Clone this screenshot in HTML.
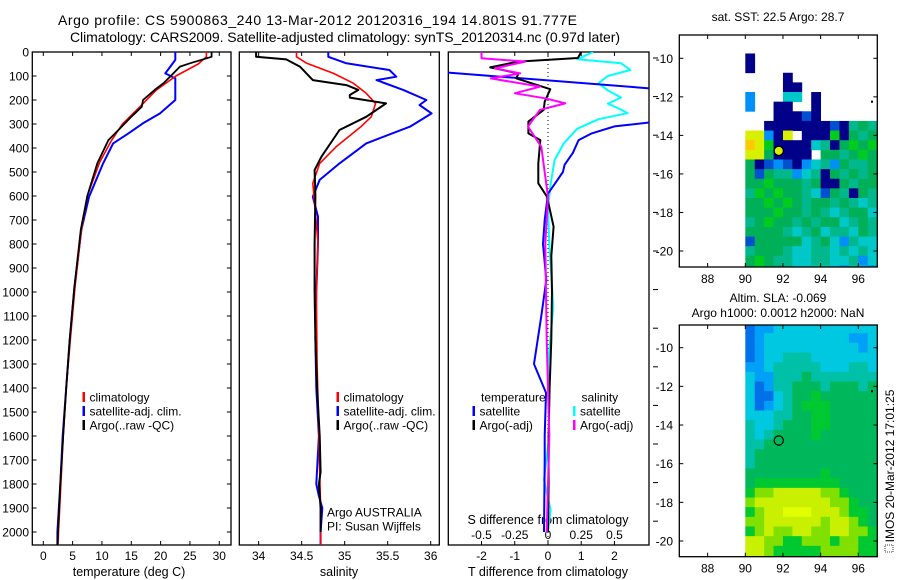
<!DOCTYPE html>
<html><head><meta charset="utf-8"><style>
html,body{margin:0;padding:0;background:#fff;}
svg{display:block;font-family:"Liberation Sans",Arial,sans-serif;}
</style></head><body>
<svg id="fig" width="900" height="580" viewBox="0 0 900 580">
<rect x="0" y="0" width="900" height="580" fill="#fff"/>
<text x="58" y="25" font-size="14" textLength="519" lengthAdjust="spacing">Argo profile: CS 5900863_240 13-Mar-2012 20120316_194 14.801S 91.777E</text>
<text x="70" y="42" font-size="14" textLength="550" lengthAdjust="spacing">Climatology: CARS2009. Satellite-adjusted climatology: synTS_20120314.nc (0.97d later)</text>
<g id="g"></g>
</svg>
<script>
// ---------- DATA ----------
// temperature panel
const tClimDepth=[0,20,50,100,160,230,300,370,460,600,740,980,1200,1400,1600,1800,2000,2060];
const tClimVal=[27.8,27.8,26.4,22.6,19.2,16.4,13.5,11.6,9.6,7.5,6.5,5.4,4.6,3.9,3.4,3.0,2.6,2.5];
const tArgoDepth=[0,20,47,61,103,130,158,200,228,270,325,367,464,600,740,980,1200,1400,1600,1800,2000,2060];
const tArgoVal=[28.7,28.7,25,23.3,21.6,20.5,19,17,16.8,15,12.8,11.1,9.2,7.5,6.4,5.3,4.5,3.9,3.4,2.9,2.5,2.4];
const tSatDepth=[0,33,89,110,200,256,297,339,381,464,603,740,980,1200,1400,1600,1800,2000,2060];
const tSatVal=[22.5,22.5,20.8,22.5,22.5,19.9,17,14.5,11.9,10.2,7.8,6.5,5.3,4.5,3.9,3.3,2.9,2.4,2.4];
// salinity panel
const sClimDepth=[0,20,47,89,130,172,214,270,311,395,464,547,631,797,1000,1300,1600,1900,2060];
const sClimVal=[34.44,34.44,34.56,34.87,35.10,35.25,35.36,35.31,35.19,34.90,34.71,34.63,34.65,34.69,34.67,34.68,34.70,34.72,34.72];
const sArgoDepth=[0,20,31,61,117,138,158,179,190,214,270,325,436,492,600,800,1000,1200,1400,1600,1750,1800,1900,2000];
const sArgoVal=[33.97,33.97,34.32,34.48,34.63,35.02,35.16,35.06,35.06,35.48,35.25,34.94,34.73,34.65,34.66,34.65,34.65,34.66,34.68,34.71,34.72,34.70,34.72,34.72];
const sSatDepth=[0,20,47,75,103,117,158,200,221,256,311,381,464,533,603,686,800,1000,1200,1400,1600,1800,1850,1900,2000,2060];
const sSatVal=[34.81,34.81,35.02,35.52,35.60,35.37,35.68,35.95,35.87,36.01,35.76,35.25,34.94,34.71,34.63,34.69,34.69,34.67,34.66,34.67,34.70,34.67,34.70,34.74,34.72,34.72];
// difference panel
const dTArgoDepth=[0,25,40,64,89,110,155,207,241,290,339,367,464,547,603,728,850,1000,1200,1400,1600,1800,2000];
const dTArgoVal=[1.0,0.9,-0.9,-1.74,-0.89,-0.95,0.07,-0.1,-0.13,-0.59,-0.59,-0.23,-0.29,-0.29,-0.03,0.17,0.1,0.12,0.1,0.05,0.02,0.02,0.0];
const dTSatDepth=[0,80,86,151,170,280,290,310,340,367,420,470,500,560,590,700,800,950,1100,1300,1420,1600,1700,2000];
const dTSatVal=[-6,-4,-3,3,4,4,3.3,2.0,1.3,0.92,0.75,0.5,0.45,0.15,0,-0.1,-0.15,-0.05,-0.2,-0.42,-0.06,-0.1,-0.1,-0.12];
const dSArgoDepth=[0,26,40,68,89,110,144,172,193,214,241,311,395,603,800,1200,1600,2000];
const dSArgoVal=[-0.50,-0.50,-0.17,-0.40,-0.21,-0.43,-0.06,-0.25,-0.02,0.13,-0.06,-0.15,-0.05,0,-0.02,-0.01,0.01,-0.01];
const dSSatDepth=[0,30,47,75,100,130,160,190,215,240,255,280,320,380,450,550,650,800,1061,1300,1600,1783,1908,2000];
const dSSatVal=[0.34,0.22,0.55,0.62,0.45,0.38,0.45,0.55,0.45,0.55,0.60,0.38,0.22,0.12,0.05,0.02,0.0,0.01,0.04,0.0,0.01,-0.03,0.02,0.0];
// tick labels
const depthTicks=[0,100,200,300,400,500,600,700,800,900,1000,1100,1200,1300,1400,1500,1600,1700,1800,1900,2000];
const tempTicks=[0,5,10,15,20,25,30];
const salTicks=["34","34.5","35","35.5","36"];
const dTTicks=[-2,-1,0,1,2];
const dSTicks=["-0.5","-0.25","0","0.25","0.5"];
const lonTicks=[88,90,92,94,96];
const latTicks=[-10,-12,-14,-16,-18,-20];
// map grids (0.5 deg cells, lon from 90, lat from -8.75 downward)
const sstGrid=[
"...............","...............","N..............","N..............","....N..........",
"....NN.........","L...CC.N.......","L..NN..N.......","...NNNBN.......","..NNNNNNNBNTGTG",
"YYLNY.NNNgNGTGT","OYgNNNNCTNGgGgG","YYGNNNN.GGTGgGG","GNBLBNLCTLGTTGG","GBGTTLCTNGTGTGG",
"GGgGGGTGNNGTGGN","TgGgGGTCBGTNGTC","GGgGgGTGGTGTCTG","GGGgGGTGTCTGGCT","TGgGGTGTGGCTGTC",
"GGGGTCTGCTTCGTT","BGGGGGCTGCLTCCG","TGGGTCCTTCTCTCT","GgGTTCCTTCCTLCT","GgGGTCCCCCLCCLC"];
const slaGrid=[
"bllcccccccccccc","blcccccccccllcc","blcccccccccclcc","blcctttcccccccc","llctttttcccttcc",
"clltttGtttttttt","cblttGGGtGGGtGt","cbbctGGgGGGGGGt","cblctGgggGGGGGG","cccttGGggGGGGGG",
"tcctGGGggGGGGGG","tctGGGGgGGGGGGG","ttGGGGGGGGGGGGG","tGGGGGGGGGGGGGG","tGGGGGGGGGGGGGG",
"GGGGGGGGgGGGGGG","GgggggggggGGGGG","ghhyyyyyhhgGGGG","hyyyyyyyyhhgGGG","ghyyYYYyyyhggGG",
"hhyyyyyyhyyhgGg","ghyhhyyhhyyhhgg","yyhhgghhhghhggh","yyhggggghhhhggh","yyhggggghhhhggh"];
const argoLon=91.777, argoLat=-14.801;

// ---------- helpers ----------
const NS="http://www.w3.org/2000/svg";
const root=document.getElementById('g');
function el(tag,attrs,parent){const e=document.createElementNS(NS,tag);for(const k in attrs)e.setAttribute(k,attrs[k]);(parent||root).appendChild(e);return e;}
function txt(x,y,s,size,anchor,parent){const t=el('text',{x:x,y:y,'font-size':size,'text-anchor':anchor||'middle'},parent);t.textContent=s;return t;}
const Y0=52,Y1=545;
const yD=d=>Y0+d*0.24;

const panels=[
 {x0:32.3,x1:231,vmin:-1.875,vmax:32,name:'temperature-panel'},
 {x0:239.3,x1:439.3,vmin:33.775,vmax:36.1,name:'salinity-panel'},
 {x0:448.3,x1:649,vmin:-3,vmax:3.04,name:'difference-panel'}];
function xf(p,v){return p.x0+(v-p.vmin)/(p.vmax-p.vmin)*(p.x1-p.x0);}

const defs=el('defs',{});
panels.forEach((p,i)=>{
  const cp=el('clipPath',{id:'clip'+i},defs);
  el('rect',{x:p.x0,y:Y0,width:p.x1-p.x0,height:Y1-Y0},cp);
});

function drawLine(pi,depths,vals,color,w,name,scale){
  const p=panels[pi];const s=scale||1;
  const pts=depths.map((d,k)=>xf(p,vals[k]*s).toFixed(1)+','+yD(d).toFixed(1)).join(' ');
  const l=el('polyline',{points:pts,fill:'none',stroke:color,'stroke-width':w,'stroke-linejoin':'round','clip-path':'url(#clip'+pi+')'});
  
  
}

// panel frames
panels.forEach((p,i)=>{
  const r=el('rect',{x:p.x0,y:Y0,width:p.x1-p.x0,height:Y1-Y0,fill:'none',stroke:'#000','stroke-width':1.3});
  
  
});

// depth axis (panel 1)
depthTicks.forEach(d=>{
  const y=yD(d);
  el('line',{x1:32.3,x2:36.5,y1:y,y2:y,stroke:'#000','stroke-width':1});
  el('line',{x1:231,x2:226.8,y1:y,y2:y,stroke:'#000','stroke-width':1});
  const t=txt(29,y+4.5,String(d),12,'end');
  
  
});
// temperature ticks
tempTicks.forEach(v=>{
  const x=xf(panels[0],v);
  el('line',{x1:x,x2:x,y1:Y1,y2:Y1-4,stroke:'#000'});
  el('line',{x1:x,x2:x,y1:Y0,y2:Y0+4,stroke:'#000'});
  const t=txt(x,560,String(v),12);
  
  
});
salTicks.forEach(v=>{
  const x=xf(panels[1],parseFloat(v));
  el('line',{x1:x,x2:x,y1:Y1,y2:Y1-4,stroke:'#000'});
  el('line',{x1:x,x2:x,y1:Y0,y2:Y0+4,stroke:'#000'});
  const t=txt(x,560,v,12);
  
  
});
dTTicks.forEach(v=>{
  const x=xf(panels[2],v);
  el('line',{x1:x,x2:x,y1:Y1,y2:Y1-4,stroke:'#000'});
  el('line',{x1:x,x2:x,y1:Y0,y2:Y0+4,stroke:'#000'});
  const t=txt(x,560,String(v),12);
  
  
});
dSTicks.forEach(v=>{
  const x=xf(panels[2],parseFloat(v)*4);
  const t=txt(x,539,v,12);
  
  
});
// stray right ticks
for(let k=0;k<13;k++){const y=58+38.6*k;el('line',{x1:653,x2:658,y1:y,y2:y,stroke:'#000'});}
// zero line
el('line',{x1:xf(panels[2],0),x2:xf(panels[2],0),y1:Y0,y2:Y1,stroke:'#000','stroke-width':1,'stroke-dasharray':'1,3'});

// axis titles
[[129,576,'temperature (deg C)','temperature-axis-title'],[339,576,'salinity','salinity-axis-title'],[548,576,'T difference from climatology','t-difference-axis-title'],[548,524,'S difference from climatology','s-difference-axis-title']].forEach(a=>{
  const t=txt(a[0],a[1],a[2],12.5);
  
  
});

// series
drawLine(0,tSatDepth,tSatVal,'#0000ff',2,'temperature-satellite-line');
drawLine(0,tClimDepth,tClimVal,'#ff0000',1.6,'temperature-climatology-line');
drawLine(0,tArgoDepth,tArgoVal,'#000000',1.8,'temperature-argo-line');
drawLine(1,sSatDepth,sSatVal,'#0000ff',2,'salinity-satellite-line');
drawLine(1,sClimDepth,sClimVal,'#ff0000',1.6,'salinity-climatology-line');
drawLine(1,sArgoDepth,sArgoVal,'#000000',2,'salinity-argo-line');
drawLine(2,dSSatDepth,dSSatVal,'#00ffff',2,'s-difference-satellite-line',4);
drawLine(2,dTSatDepth,dTSatVal,'#0000ff',2,'t-difference-satellite-line');
drawLine(2,dTArgoDepth,dTArgoVal,'#000000',2,'t-difference-argo-line');
drawLine(2,dSArgoDepth,dSArgoVal,'#ff00ff',2,'s-difference-argo-line',4);

// legends
function legend(x,y,color,label,name){
  const g=el('g',{});
  
  
  el('rect',{x:x,y:y-5,width:2.5,height:10,fill:color},g);
  txt(x+7,y+4.5,label,12,'start',g);
}
legend(82.5,397,'#ff0000','climatology','legend-climatology');
legend(82.5,411,'#0000ff','satellite-adj. clim.','legend-satellite-adj');
legend(82.5,425,'#000000','Argo(..raw -QC)','legend-argo');
legend(336.5,397,'#ff0000','climatology','legend2-climatology');
legend(336.5,411,'#0000ff','satellite-adj. clim.','legend2-satellite-adj');
legend(336.5,425,'#000000','Argo(..raw -QC)','legend2-argo');
txt(481,401.5,'temperature',12,'start');
legend(472.5,411,'#0000ff','satellite','legend-t-satellite');
legend(472.5,425,'#000000','Argo(-adj)','legend-t-argo');
txt(581.5,401.5,'salinity',12,'start');
legend(573,411,'#00ffff','satellite','legend-s-satellite');
legend(573,425,'#ff00ff','Argo(-adj)','legend-s-argo');
txt(327,516.5,'Argo AUSTRALIA',12,'start');
txt(327,530.5,'PI: Susan Wijffels',12,'start');

// ---------- maps ----------
const MX0=679.3,MX1=877.3;
const lonX=lon=>745.3+(lon-90)*18.83;
const maps=[
 {y0:35,y1:267,lat10:58.3,py:19.27,grid:sstGrid,name:'sst-map',fill:true,
  col:{N:'#000088',B:'#0050d0',L:'#0090f8',C:'#00c8c8',T:'#00b88c',G:'#00b058',g:'#00cc20',Y:'#d8f000',O:'#ffc800'}},
 {y0:325,y1:556.7,lat10:347.7,py:19.33,grid:slaGrid,name:'sla-map',fill:false,
  col:{b:'#0070e8',l:'#00a0f8',c:'#00c8e0',t:'#00c0a8',G:'#00b85c',g:'#00c830',h:'#80e000',y:'#c8f000',Y:'#e0ff00'}}];
maps.forEach((m,mi)=>{
  const latY=lat=>m.lat10+(-10-lat)*m.py;
  const cp=el('clipPath',{id:'mclip'+mi},defs);
  el('rect',{x:MX0,y:m.y0,width:MX1-MX0,height:m.y1-m.y0},cp);
  const g=el('g',{'clip-path':'url(#mclip'+mi+')'});
  
  
  m.grid.forEach((row,ri)=>{
    for(let ci=0;ci<row.length;ci++){
      const c=m.col[row[ci]]; if(!c) continue;
      const lon=90+ci*0.5, lat=-8.75-ri*0.5;
      const x=lonX(lon), y=latY(lat);
      el('rect',{x:x.toFixed(2),y:y.toFixed(2),width:(lonX(lon+0.5)-x+0.4).toFixed(2),height:(latY(lat-0.5)-y+0.4).toFixed(2),fill:c},g);
    }
  });
  const mk=el('circle',{cx:lonX(argoLon),cy:latY(argoLat),r:4.6,fill:m.fill?'#d8f000':'none',stroke:'#000','stroke-width':1.2});
  
  
  const fr=el('rect',{x:MX0,y:m.y0,width:MX1-MX0,height:m.y1-m.y0,fill:'none',stroke:'#000','stroke-width':1.3});
  
  
  lonTicks.forEach(v=>{
    const x=lonX(v);
    el('line',{x1:x,x2:x,y1:m.y1,y2:m.y1-4,stroke:'#000'});
    el('line',{x1:x,x2:x,y1:m.y0,y2:m.y0+4,stroke:'#000'});
    const t=txt(x,m.y1+16,String(v),12);
    
    
  });
  latTicks.forEach(v=>{
    const y=latY(v);
    el('line',{x1:MX0,x2:MX0+4,y1:y,y2:y,stroke:'#000'});
    el('line',{x1:MX1,x2:MX1-4,y1:y,y2:y,stroke:'#000'});
    const t=txt(673,y+4.5,String(v),12,'end');
    
    
  });
  el('rect',{x:871,y:latY(-12.2),width:2,height:2,fill:'#000'});
});
txt(778,21,'sat. SST: 22.5 Argo: 28.7',12);
txt(778,302,'Altim. SLA: -0.069',12);
txt(778,317,'Argo h1000: 0.0012 h2000: NaN',12);
const im=txt(0,0,'IMOS 20-Mar-2012 17:01:25',12,'middle');
im.setAttribute('transform','translate(894,466) rotate(-90)');


el('rect',{x:885,y:545,width:8,height:7,fill:'none',stroke:'#000','stroke-width':0.8,'stroke-dasharray':'1,1'});
</script>
</body></html>
